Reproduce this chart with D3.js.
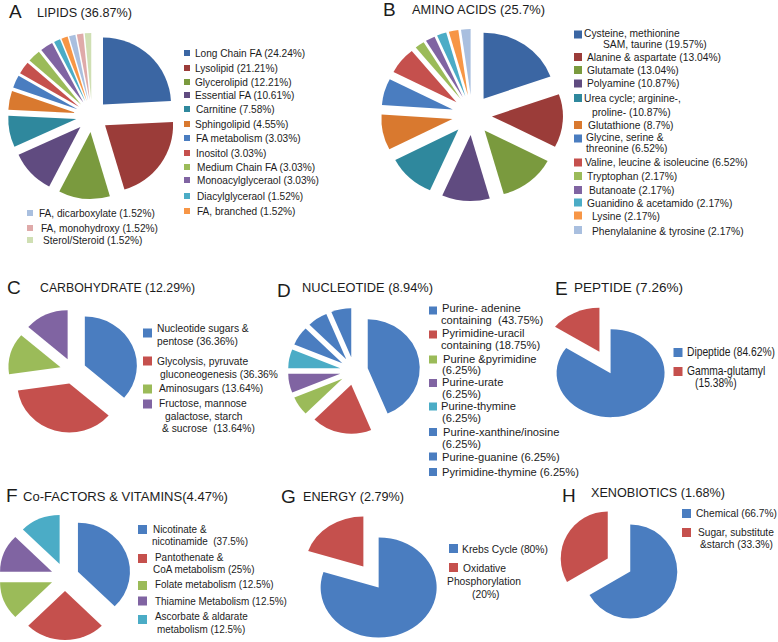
<!DOCTYPE html>
<html><head><meta charset="utf-8">
<script src="https://cdn.jsdelivr.net/npm/d3@7"></script>
<style>
body{margin:0;background:#fff}
text{font-family:"Liberation Sans",Arial,Helvetica,sans-serif;fill:#1c1c1c}
</style>
</head><body>
<svg id="chart" width="778" height="642"></svg>
<script>
// ---------------- DATA ----------------
const lipidLabels = ["Long Chain FA (24.24%)","Lysolipid (21.21%)","Glycerolipid (12.21%)","Essential FA (10.61%)","Carnitine (7.58%)","Sphingolipid (4.55%)","FA metabolism (3.03%)","Inositol (3.03%)","Medium Chain FA (3.03%)","Monoacylglyceraol (3.03%)","Diacylglyceraol (1.52%)","FA, branched (1.52%)","FA, dicarboxylate (1.52%)","FA, monohydroxy (1.52%)","Sterol/Steroid (1.52%)"];
const lipidValues = [24.24,21.21,12.21,10.61,7.58,4.55,3.03,3.03,3.03,3.03,1.52,1.52,1.52,1.52,1.52];

const aminoLabels = ["Cysteine, methionine\nSAM, taurine (19.57%)","Alanine & aspartate (13.04%)","Glutamate (13.04%)","Polyamine (10.87%)","Urea cycle; arginine-,\nproline- (10.87%)","Glutathione (8.7%)","Glycine, serine &\nthreonine (6.52%)","Valine, leucine & isoleucine (6.52%)","Tryptophan (2.17%)","Butanoate (2.17%)","Guanidino & acetamido (2.17%)","Lysine (2.17%)","Phenylalanine & tyrosine (2.17%)"];
const aminoValues = [19.57,13.04,13.04,10.87,10.87,8.7,6.52,6.52,2.17,2.17,2.17,2.17,2.17];

const carbLabels = ["Nucleotide sugars &\npentose (36.36%)","Glycolysis, pyruvate\ngluconeogenesis (36.36%","Aminosugars (13.64%)","Fructose, mannose\ngalactose, starch\n& sucrose\u00a0 (13.64%)"];
const carbValues = [36.36,36.36,13.64,13.64];

const nucLabels = ["Purine- adenine\ncontaining\u00a0 (43.75%)","Pyrimidine-uracil\ncontaining (18.75%)","Purine &pyrimidine\n(6.25%)","Purine-urate\n(6.25%)","Purine-thymine\n(6.25%)","Purine-xanthine/inosine\n(6.25%)","Purine-guanine (6.25%)","Pyrimidine-thymine (6.25%)"];
const nucValues = [43.75,18.75,6.25,6.25,6.25,6.25,6.25,6.25];

const pepLabels = ["Dipeptide (84.62%)","Gamma-glutamyl\n(15.38%)"];
const pepValues = [84.62,15.38];

const cofLabels = ["Nicotinate &\nnicotinamide\u00a0 (37.5%)","Pantothenate &\nCoA metabolism (25%)","Folate metabolism (12.5%)","Thiamine Metabolism (12.5%)","Ascorbate & aldarate\nmetabolism (12.5%)"];
const cofValues = [37.5,25,12.5,12.5,12.5];

const energyLabels = ["Krebs Cycle (80%)","Oxidative\nPhosphorylation\n(20%)"];
const energyValues = [80,20];

const xenoLabels = ["Chemical (66.7%)","Sugar, substitute\n&starch (33.3%)"];
const xenoValues = [66.7,33.3];

const panelLetters = ["A","B","C","D","E","F","G","H"];
const panelTitles = ["LIPIDS (36.87%)","AMINO ACIDS (25.7%)","CARBOHYDRATE (12.29%)","NUCLEOTIDE (8.94%)","PEPTIDE (7.26%)","Co-FACTORS & VITAMINS(4.47%)","ENERGY (2.79%)","XENOBIOTICS (1.68%)"];

// ---------------- STYLE ----------------
const dark = ["#3b66a3","#9b3c39","#7a9a3e","#604b80","#2f889d","#d9792f"];
const std  = ["#4a7dc0","#c5504d","#9bbb59","#8064a2","#4bacc6","#f79646"];
const light= ["#a9bfdf","#dfaaa9","#cfdfb3"];
const lipidColors = [...dark, ...std, ...light];
const aminoColors = [...dark, ...std, light[0]];
const carbColors = [std[0],std[1],std[2],std[3]];
const nucColors = [std[0],std[1],std[2],std[3],std[4],std[0],std[0],std[0]];
const pepColors = [std[0],std[1]];
const cofColors = [std[0],std[1],std[2],std[3],std[4]];
const energyColors = [std[0],std[1]];
const xenoColors = [std[0],std[1]];

// ---------------- LAYOUT ----------------
// legend items: [markerCenterX, markerCenterY, [[textX, textCenterY], ...]]
// fit: [item, line, target width in px]  -> horizontal text scale for the panel legend
const layouts = [
 {letter:[9,18], title:[37,17], titleW:95, cx:92, cy:116, rx:68, ry:67, d:16, fs:10.4, ms:6, fit:[9,0,122],
  legend:[[187,53,[[195,53]]],[187,68,[[195,68]]],[187,82,[[195,82]]],[187,95,[[195,95]]],[187,109,[[196,109]]],[187,124,[[195,124]]],[187,138,[[196,138]]],[187,153,[[196,153]]],[187,167,[[197,167]]],[187,180,[[197,180]]],[187,196,[[197,196]]],[187,211,[[197,211]]],[30,213,[[39,213]]],[30,228,[[41,228]]],[30,240,[[43,240]]]]},
 {letter:[383,16], title:[412,13.5], titleW:133, cx:472, cy:115, rx:71, ry:66, d:20, fs:11, ms:8, fit:[7,0,163],
  legend:[[578,34.5,[[584,33],[603,44]]],[578,57,[[587,57]]],[578,70,[[587,70]]],[578,83.5,[[587,83]]],[578,98,[[584,98],[592,112]]],[578,125,[[588,125]]],[578,138.5,[[586,137],[586,148]]],[578,162.5,[[585,162]]],[578,176,[[587,176]]],[578,190,[[589,190]]],[578,202.5,[[587,203]]],[578,215.5,[[592,216]]],[578,230,[[592,231]]]]},
 {letter:[7,294], title:[40,292], titleW:155, cx:73, cy:371, rx:52, ry:49, d:13, fs:11.4, ms:9, fit:[1,1,118],
  legend:[[147.5,333,[[157,328],[157,341]]],[147.5,361,[[157,361],[160,374]]],[147.5,389,[[159,388]]],[147.5,404,[[159,403],[165,416],[162,428]]]]},
 {letter:[277,297], title:[302,292], titleW:131, cx:354, cy:371, rx:52, ry:49, d:14, fs:11.4, ms:8, fit:[7,0,137],
  legend:[[433,310.5,[[442,308],[441,320]]],[433,334.5,[[442,333],[441,345]]],[433,359.5,[[443,359],[442,370]]],[433,383,[[442,382],[442,394]]],[433,406.5,[[441,406],[442,418]]],[433,432,[[443,432],[442,444]]],[433,456.5,[[442,457]]],[433,472,[[442,472]]]]},
 {letter:[555,295], title:[574,292], titleW:109, cx:605, cy:362.5, rx:54, ry:44, d:12, fs:12.2, ms:9, fit:[0,0,88],
  legend:[[678,352.5,[[687,352]]],[678,371.5,[[687,371],[695,382.5]]]]},
 {letter:[6,502], title:[23,501], titleW:205, cx:65, cy:577, rx:52, ry:49, d:14, fs:11.8, ms:9, fit:[3,0,132],
  legend:[[142.5,529.5,[[153,529],[152,541]]],[142.5,558.5,[[155,557],[153,569]]],[142.5,585.5,[[155,584]]],[142.5,601,[[155,601]]],[142.5,619.5,[[155,616],[157,629]]]]},
 {letter:[281,503], title:[303,501], titleW:101, cx:371, cy:577, rx:58, ry:50, d:13, fs:11.6, ms:9, fit:[1,1,74],
  legend:[[453.5,548.5,[[462,549]]],[453.5,567.5,[[463,568],[447,581],[472,594]]]]},
 {letter:[562,502], title:[591,497], titleW:134, cx:619, cy:565, rx:47, ry:47, d:13, fs:11.8, ms:9, fit:[0,0,81],
  legend:[[686.5,513.5,[[696,513]]],[686.5,532.5,[[698,532],[700,544]]]]}
];

const panelData = [
 [lipidLabels, lipidValues, lipidColors],
 [aminoLabels, aminoValues, aminoColors],
 [carbLabels, carbValues, carbColors],
 [nucLabels, nucValues, nucColors],
 [pepLabels, pepValues, pepColors],
 [cofLabels, cofValues, cofColors],
 [energyLabels, energyValues, energyColors],
 [xenoLabels, xenoValues, xenoColors]
];

// ---------------- DRAW ----------------
const svg = d3.select("#chart");
svg.append("rect").attr("width",778).attr("height",642).attr("fill","#fff");

function naturalWidth(str, size) {
  const t = svg.append("text").attr("font-size", size).text(str);
  const w = t.node().getComputedTextLength();
  t.remove();
  return w;
}
function addText(g, x, y, s, size, sx) {
  return g.append("text")
    .attr("transform", `translate(${x},${y}) scale(${sx},1)`)
    .attr("font-size", size)
    .text(s);
}

const pie = d3.pie().sort(null).value(d => d);

panelData.forEach(([labels, values, colors], i) => {
  const L = layouts[i];
  const g = svg.append("g");

  // header
  addText(g, L.letter[0], L.letter[1], panelLetters[i], 19, 1).attr("font-weight", 300);
  const tfs = 12.7;
  const tsx = L.titleW / naturalWidth(panelTitles[i], tfs);
  addText(g, L.title[0], L.title[1], panelTitles[i], tfs, tsx);

  // exploded pie
  const arc = d3.arc().innerRadius(0).outerRadius(L.rx);
  g.selectAll("path.slice").data(pie(values)).join("path")
    .attr("class", "slice")
    .attr("d", arc)
    .attr("fill", (d, j) => colors[j])
    .attr("transform", d => {
      const m = (d.startAngle + d.endAngle) / 2;
      const x = L.cx + L.d * Math.sin(m);
      const y = L.cy - L.d * Math.cos(m);
      return `translate(${x},${y}) scale(1,${L.ry / L.rx})`;
    });

  // legend
  const refLine = labels[L.fit[0]].split("\n")[L.fit[1]];
  const sx = L.fit[2] / naturalWidth(refLine, L.fs);
  labels.forEach((lab, j) => {
    const [mx, my, lines] = L.legend[j];
    g.append("rect")
      .attr("x", mx - L.ms / 2).attr("y", my - L.ms / 2)
      .attr("width", L.ms).attr("height", L.ms)
      .attr("fill", colors[j]);
    lab.split("\n").forEach((ln, k) => {
      const [tx, ty] = lines[k];
      addText(g, tx, ty + L.fs * 0.36, ln, L.fs, sx);
    });
  });
});
</script>
</body></html>
